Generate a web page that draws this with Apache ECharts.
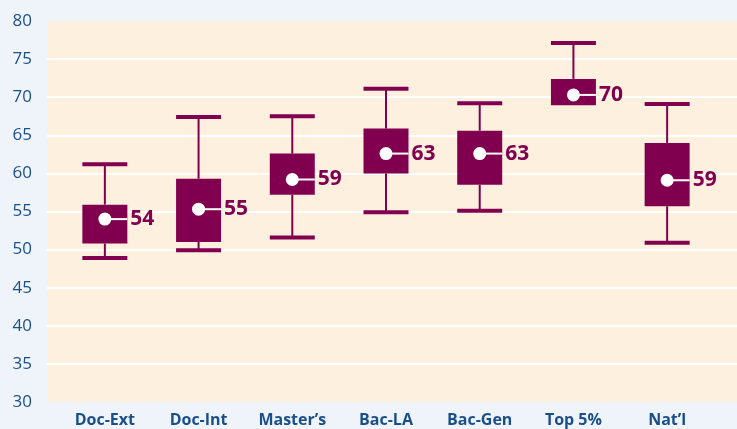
<!DOCTYPE html>
<html>
<head>
<meta charset="utf-8">
<script src="https://cdn.jsdelivr.net/npm/echarts@6/dist/echarts.min.js"></script>
<style>
  html, body { margin: 0; padding: 0; background: #eff4fa; }
  #box_chart { width: 737px; height: 429px; }
</style>
</head>
<body>
<div id="box_chart"></div>
<script>
  // 数据
  var categories = ['Doc-Ext', 'Doc-Int', 'Master\u2019s', 'Bac-LA', 'Bac-Gen', 'Top 5%', 'Nat\u2019l'];
  var lowValues  = [48.9, 49.9, 51.6, 54.9, 55.1, 69.2, 50.9];
  var q1Values   = [50.8, 51.0, 57.2, 60.0, 58.5, 69.2, 55.7];
  var q3Values   = [55.9, 59.3, 62.6, 65.9, 65.6, 72.4, 64.0];
  var highValues = [61.2, 67.4, 67.5, 71.1, 69.2, 77.1, 69.1];
  var meanValues = [54.0, 55.3, 59.2, 62.6, 62.6, 70.3, 59.1];
  var meanLabels = ['54', '55', '59', '63', '63', '70', '59'];
  var yTicks = { min: 30, max: 80, interval: 5 };

  var maroon = '#80004f';
  var blue = '#1b4f8a';

  var chart = echarts.init(document.getElementById('box_chart'));

  var boxData = categories.map(function (c, i) {
    return [i, lowValues[i], q1Values[i], q3Values[i], highValues[i], meanValues[i]];
  });

  function renderBox(params, api) {
    var idx = api.value(0);
    var pLow = api.coord([idx, api.value(1)]);
    var pQ1 = api.coord([idx, api.value(2)]);
    var pQ3 = api.coord([idx, api.value(3)]);
    var pHigh = api.coord([idx, api.value(4)]);
    var pMean = api.coord([idx, api.value(5)]);
    var band = api.size([1, 0])[0];
    var bw = band * 0.48; // 箱体宽度
    var cx = pQ1[0];
    var capH = 4;
    return {
      type: 'group',
      children: [
        { type: 'line', shape: { x1: cx, y1: pHigh[1], x2: cx, y2: pQ3[1] }, style: { stroke: maroon, lineWidth: 2 } },
        { type: 'line', shape: { x1: cx, y1: pQ1[1], x2: cx, y2: pLow[1] }, style: { stroke: maroon, lineWidth: 2 } },
        { type: 'rect', shape: { x: cx - bw / 2, y: pHigh[1] - capH / 2, width: bw, height: capH }, style: { fill: maroon } },
        { type: 'rect', shape: { x: cx - bw / 2, y: pLow[1] - capH / 2, width: bw, height: capH }, style: { fill: maroon } },
        { type: 'rect', shape: { x: cx - bw / 2, y: pQ3[1], width: bw, height: pQ1[1] - pQ3[1] }, style: { fill: maroon } },
        { type: 'line', shape: { x1: cx, y1: pMean[1], x2: cx + bw / 2, y2: pMean[1] }, style: { stroke: '#fff', lineWidth: 2 } },
        { type: 'circle', shape: { cx: cx, cy: pMean[1], r: 6.5 }, style: { fill: '#fff' } },
        {
          type: 'text',
          x: cx + bw / 2 + 3,
          y: pMean[1],
          style: {
            text: meanLabels[idx],
            fill: maroon,
            font: 'bold 21px "Open Sans", sans-serif',
            verticalAlign: 'middle',
            align: 'left'
          }
        }
      ]
    };
  }

  var option = {
    backgroundColor: '#eff4fa',
    animation: false,
    grid: [
      // 底色区域
      { left: 47, right: 0, top: 21, bottom: 27, show: true, backgroundColor: '#fdf0de', borderWidth: 0 },
      { left: 58, right: 23, top: 21, bottom: 27 }
    ],
    xAxis: [
      { type: 'value', gridIndex: 0, show: false, min: 0, max: 1 },
      {
        type: 'category',
        gridIndex: 1,
        data: categories,
        axisLine: { show: false },
        axisTick: { show: false },
        axisLabel: {
          color: blue,
          fontSize: 16,
          fontWeight: 'bold',
          fontFamily: '"Open Sans", sans-serif',
          margin: 10
        }
      }
    ],
    yAxis: [
      {
        type: 'value',
        gridIndex: 0,
        min: yTicks.min,
        max: yTicks.max,
        interval: yTicks.interval,
        axisLine: { show: false },
        axisTick: { show: false },
        axisLabel: {
          color: blue,
          fontSize: 17,
          fontFamily: '"Open Sans", sans-serif',
          margin: 15
        },
        splitLine: { show: true, showMinLine: false, showMaxLine: false, lineStyle: { color: '#ffffff', width: 2 } }
      },
      {
        type: 'value',
        gridIndex: 1,
        min: yTicks.min,
        max: yTicks.max,
        interval: yTicks.interval,
        show: false,
        splitLine: { show: false }
      }
    ],
    series: [
      {
        type: 'custom',
        xAxisIndex: 1,
        yAxisIndex: 1,
        renderItem: renderBox,
        encode: { x: 0, y: [1, 2, 3, 4, 5] },
        data: boxData
      }
    ]
  };

  chart.setOption(option);
</script>
</body>
</html>
